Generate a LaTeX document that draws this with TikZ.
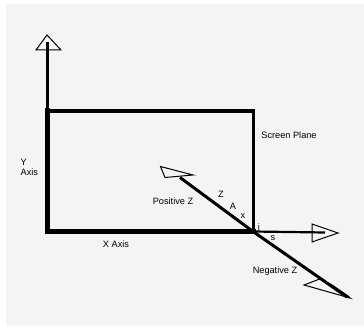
\documentclass[tikz,border=0pt]{standalone}
\usepackage{fontspec}
\setmainfont{Liberation Sans}
\usepackage{xcolor}
\usetikzlibrary{positioning, calc}
\definecolor{paper}{HTML}{F4F4F4}

\begin{document}
\begin{tikzpicture}[x=1pt, y=-1pt,
    edge/.style={draw=black, line cap=rect},
    axisline/.style={draw=black, line width=2.2pt},
    zline/.style={draw=black, line width=3pt},
    head/.style={draw=black, fill=paper, line width=1pt, line join=miter},
    lbl/.style={font=\fontsize{9.2}{10}\selectfont, inner sep=0pt, text=black}
]
    \useasboundingbox (0,0) rectangle (364,328);
    \fill[paper] (6,4) rectangle (364,326);

    % Screen Plane corners
    \coordinate (tl) at (47.5,111);
    \coordinate (tr) at (253,111);
    \coordinate (bl) at (47.5,231.5);
    \coordinate (origin) at (253,231.5);

    % Axis ends
    \coordinate (ytip) at (47.5,42);
    \coordinate (xtip) at (325,232.5);
    \coordinate (zpos) at (180,177.5);
    \coordinate (zneg) at (347,297);

    % Arrow heads
    \draw[head] (36,50) -- (47,35) -- (61,50) -- cycle;
    \draw[head] (312,224) -- (338,233) -- (312,242) -- cycle;
    \draw[head] (160.5,166.5) -- (193,175) -- (165,177.5) -- cycle;
    \draw[head] (304,285) -- (321,278.5) -- (350,298) -- cycle;
    \draw[black, line width=2.5pt] (330,284.5) -- (349,297.5);

    % Axes
    \draw[axisline] (tl) -- (ytip);
    \draw[axisline] (origin) -- (xtip);
    \draw[zline] (origin) -- (zpos);
    \draw[zline] (origin) -- (zneg);

    % Screen Plane
    \draw[edge, line width=5pt] (bl) -- (tl);
    \draw[edge, line width=3.5pt] (tl) -- (tr);
    \draw[edge, line width=3pt] (tr) -- (origin);
    \draw[edge, line width=5pt] (bl) -- (origin);

    % Labels
    \node[lbl] (plane) at (289,135) {Screen Plane};
    \node[lbl, align=left, anchor=west] (ylabel) at (20.5,167) {Y\\Axis};
    \node[lbl] (xlabel) at (116,244) {X Axis};
    \node[lbl] (poslabel) at (173,201) {Positive Z};
    \node[lbl] (neglabel) at (275,271) {Negative Z};
    \node[lbl] (zz) at (221,194) {Z};
    \node[lbl] (za) at (233,206) {A};
    \node[lbl] (zx) at (243,216) {x};
    \node[lbl] (zi) at (259,227) {i};
    \node[lbl] (zs) at (273,238) {s};

\end{tikzpicture}
\end{document}
